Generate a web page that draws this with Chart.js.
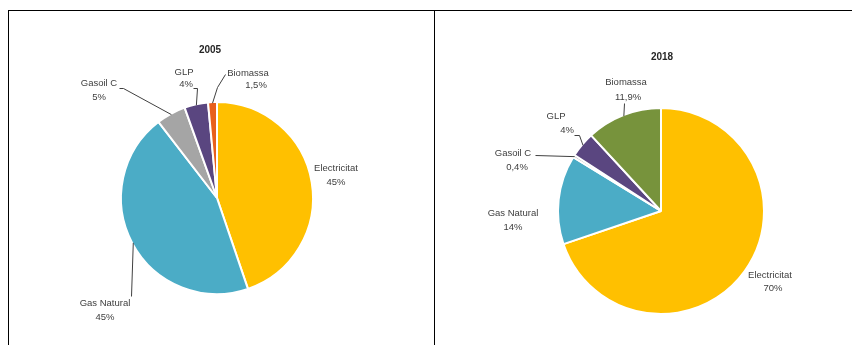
<!DOCTYPE html>
<html>
<head>
<meta charset="utf-8">
<script src="https://cdn.jsdelivr.net/npm/chart.js@4.4.1/dist/chart.umd.min.js"></script>
<style>
  html, body { margin: 0; padding: 0; background: #fff; }
  body { width: 852px; height: 345px; position: relative; overflow: hidden; }
  .rule { position: absolute; background: #000; }
  .panel { position: absolute; top: 11px; height: 334px; }
</style>
</head>
<body>
<div class="rule" style="left:8px;top:10px;width:844px;height:1px"></div>
<div class="rule" style="left:8px;top:10px;width:1px;height:335px"></div>
<div class="rule" style="left:434px;top:10px;width:1px;height:335px"></div>
<div class="panel" style="left:9px;width:425px"><canvas id="pie2005"></canvas></div>
<div class="panel" style="left:435px;width:417px"><canvas id="pie2018"></canvas></div>

<script>
// Energy sources, share of consumption (%)
const categories = ['Electricitat', 'Gas Natural', 'Gasoil C', 'GLP', 'Biomassa'];
const values2005 = [45, 45, 5, 4, 1.5];
const values2018 = [70, 14, 0.4, 4, 11.9];

const colors2005 = ['#FFC000', '#4BACC6', '#A5A5A5', '#5A4680', '#E8601C'];
const colors2018 = ['#FFC000', '#4BACC6', '#A5A5A5', '#5A4680', '#77933C'];

const FONT = '9.5px "Liberation Sans", Arial, sans-serif';
const TITLE_FONT = 'bold 10px "Liberation Sans", Arial, sans-serif';
const TEXT_COLOR = '#404040';

// label placement relative to the pie centre: one point per text line,
// plus optional leader elbows (the leader ends on the slice edge)
const layout2005 = {
    title: [-7, -148],
    labels: [
        { lines: [[119, -30], [119, -16]] },
        { lines: [[-112, 105], [-112, 119]], leader: [[-86, 98]] },
        { lines: [[-118, -115], [-118, -101]], leader: [[-98, -110], [-94, -110]] },
        { lines: [[-33, -126], [-31, -114]], leader: [[-24, -110], [-20, -110]] },
        { lines: [[31, -125], [39, -113]], leader: [[8, -124], [0, -111]] }
    ]
};
const layout2018 = {
    title: [1, -154],
    labels: [
        { lines: [[109, 64], [112, 77]] },
        { lines: [[-148, 2], [-148, 16]] },
        { lines: [[-148, -58], [-144, -44]], leader: [[-126, -56]] },
        { lines: [[-105, -95], [-94, -81]], leader: [[-87, -76], [-82, -76]] },
        { lines: [[-35, -129], [-33, -114]], leader: [[-37, -108]] }
    ]
};

function pct(v) {
    return String(v).replace('.', ',') + '%';
}

function labelPlugin(title, values, layout) {
    return {
        id: 'sliceLabels',
        afterDraw(chart) {
            const ctx = chart.ctx;
            const arcs = chart.getDatasetMeta(0).data;
            const cx = arcs[0].x, cy = arcs[0].y;
            ctx.save();
            ctx.textAlign = 'center';
            ctx.textBaseline = 'middle';
            ctx.fillStyle = '#262626';
            ctx.font = TITLE_FONT;
            ctx.fillText(title, cx + layout.title[0], cy + layout.title[1]);

            ctx.font = FONT;
            ctx.fillStyle = TEXT_COLOR;
            ctx.strokeStyle = '#404040';
            ctx.lineWidth = 1;
            layout.labels.forEach((lab, i) => {
                const text = [categories[i], pct(values[i])];
                lab.lines.forEach((p, j) => ctx.fillText(text[j], cx + p[0], cy + p[1]));
                if (lab.leader) {
                    const arc = arcs[i];
                    const mid = (arc.startAngle + arc.endAngle) / 2;
                    const r = arc.outerRadius - 1;
                    ctx.beginPath();
                    lab.leader.forEach((p, k) => {
                        const x = cx + p[0] + 0.5, y = cy + p[1] + 0.5;
                        k === 0 ? ctx.moveTo(x, y) : ctx.lineTo(x, y);
                    });
                    ctx.lineTo(cx + Math.cos(mid) * r, cy + Math.sin(mid) * r);
                    ctx.stroke();
                }
            });
            ctx.restore();
        }
    };
}

function makePie(id, title, values, colors, radius, padding, layout) {
    return new Chart(document.getElementById(id), {
        type: 'pie',
        data: {
            labels: categories,
            datasets: [{
                data: values,
                backgroundColor: colors,
                borderColor: '#ffffff',
                borderWidth: 2,
                radius: radius
            }]
        },
        options: {
            responsive: true,
            maintainAspectRatio: false,
            animation: false,
            layout: { padding: padding },
            plugins: {
                legend: { display: false },
                tooltip: { enabled: false }
            }
        },
        plugins: [labelPlugin(title, values, layout)]
    });
}

makePie('pie2005', '2005', values2005, colors2005, 96,
    { left: 0, right: 9, top: 40, bottom: 0 }, layout2005);
makePie('pie2018', '2018', values2018, colors2018, 103,
    { left: 35, right: 0, top: 66, bottom: 0 }, layout2018);
</script>
</body>
</html>
